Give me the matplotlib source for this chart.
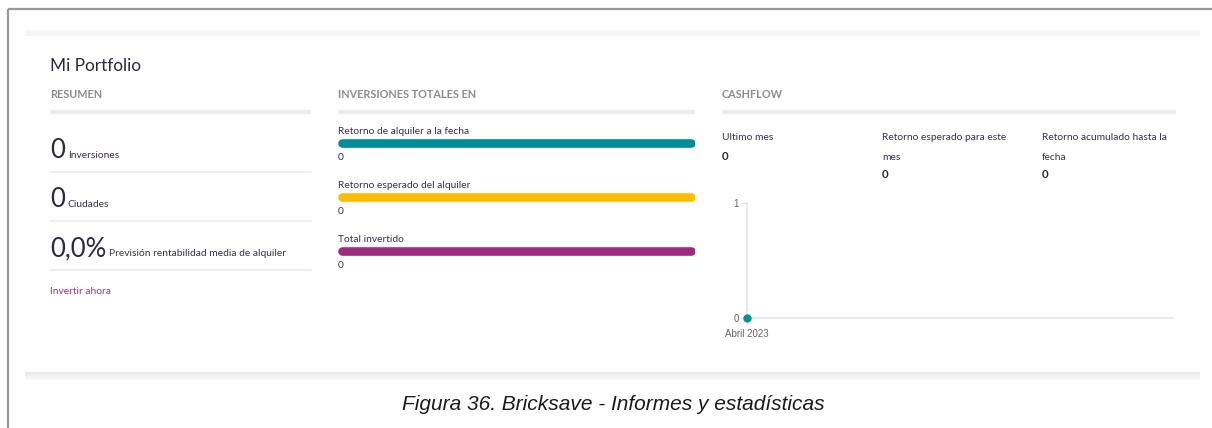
# plot.py
# Bricksave portfolio dashboard (Mi Portfolio) redrawn with matplotlib

import matplotlib.pyplot as plt

# summary block
summary_values = ['0', '0', '0,0%']
summary_labels = ['Inversiones', 'Ciudades', 'Previsión rentabilidad media de alquiler']

# total investments block
bar_labels = ['Retorno de alquiler a la fecha', 'Retorno esperado del alquiler', 'Total invertido']
bar_values = [0, 0, 0]
bar_colors = ['#008c98', '#ffbd00', '#a02a7d']

# cashflow block
cash_labels = ['Ultimo mes', 'Retorno esperado para este', 'Retorno acumulado hasta la']
cash_labels2 = ['', 'mes', 'fecha']
cash_values = [0, 0, 0]
months = ['Abril 2023']
cashflow = [0]

plt.rcParams['font.family'] = ['Lato', 'DejaVu Sans']

W, H = 1212, 428
fig = plt.figure(figsize=(W / 100, H / 100), dpi=100)
fig.patch.set_facecolor('white')

# full-figure canvas in pixel coords for the page decorations
bg = fig.add_axes([0, 0, 1, 1])
bg.set_xlim(0, W)
bg.set_ylim(H, 0)
bg.axis('off')

dark = '#2c2744'
txt = '#3a2f4e'
head = '#8c8c8c'
rule = '#ececf0'
small = 7.4

# page frame and card edges
bg.plot([8, W], [9, 9], color='#9a9a9a', lw=1.6, solid_capstyle='butt')
bg.plot([8, 8], [9, H], color='#9a9a9a', lw=1.6, solid_capstyle='butt')
bg.fill_between([25, 1200], 30, 36, color='#f6f6f8', lw=0)
for i, c in enumerate(['#e9e9ec', '#efeff1', '#f3f3f5', '#f7f7f8']):
    bg.fill_between([25, 1200], 372 + 2 * i, 374 + 2 * i, color=c, lw=0)

bg.text(50, 66, 'Mi Portfolio', fontsize=12.4, color=dark, va='center', ha='left')

# section headers and underlines
for x0, x1, name in [(50, 311, 'RESUMEN'), (338, 695, 'INVERSIONES TOTALES EN'),
                     (722, 1176, 'CASHFLOW')]:
    bg.text(x0, 94, name, fontsize=7.8, color=head, fontweight='bold', va='center')
    bg.plot([x0, x1], [112, 112], color=rule, lw=3, solid_capstyle='butt')

# summary
base_y = [158, 207, 256]
for i, (v, lab) in enumerate(zip(summary_values, summary_labels)):
    t = bg.text(50, base_y[i], v, fontsize=18.5, color=dark, va='baseline', ha='left')
    fig.canvas.draw()
    bb = t.get_window_extent()
    x_end = bb.x1 * W / fig.bbox.width
    bg.text(x_end + 3, base_y[i], lab, fontsize=small, color=txt, va='baseline', ha='left')
    bg.plot([50, 311], [base_y[i] + 14, base_y[i] + 14], color='#eeeef0', lw=1.2)
bg.text(50, 292, 'Invertir ahora', fontsize=small, color='#a0307e', va='center')

# total investment bars (full track, value printed below), axes in pixel units
bar_ax = fig.add_axes([338 / W, 1 - 275 / H, (695 - 338) / W, (275 - 120) / H])
bar_ax.set_xlim(0, 357)
bar_ax.set_ylim(275, 120)
bar_ax.axis('off')
bar_y = [143, 197, 251]
for y, lab, val, col in zip(bar_y, bar_labels, bar_values, bar_colors):
    bar_ax.plot([4, 353], [y, y], color=col, lw=6.2, solid_capstyle='round')
    bar_ax.text(0, y - 12, lab, fontsize=small, color=txt, va='center')
    bar_ax.text(0, y + 14, str(val), fontsize=small, color=txt, va='center')

# cashflow figures
for i, (lab, lab2, val) in enumerate(zip(cash_labels, cash_labels2, cash_values)):
    x = 722 + i * 160
    bg.text(x, 138, lab, fontsize=small, color=txt, va='center')
    if lab2:
        bg.text(x, 157, lab2, fontsize=small, color=txt, va='center')
    yv = 156 if i == 0 else 174
    bg.text(x, yv, str(val), fontsize=8.3, color=dark, fontweight='bold', va='center')

# cashflow chart
ax = fig.add_axes([747 / W, 1 - 318 / H, (1173 - 747) / W, (318 - 203) / H])
x = list(range(len(months)))
ax.plot(x, cashflow, color='#00929c', marker='o', markersize=5, clip_on=False, zorder=5)
ax.set_xlim(0, 1)
ax.set_ylim(0, 1)
ax.set_yticks([0, 1])
ax.set_xticks(x)
ax.set_xticklabels(months)
for s in ['top', 'right']:
    ax.spines[s].set_visible(False)
for s in ['left', 'bottom']:
    ax.spines[s].set_color('#e6e6e6')
    ax.spines[s].set_linewidth(1.2)
ax.tick_params(colors='#e0e0e0', labelcolor='#666666', length=5, width=0.8,
               labelsize=7, pad=1)
ax.tick_params(axis='x', pad=3)
for lab in ax.get_xticklabels() + ax.get_yticklabels():
    lab.set_family(['Liberation Sans', 'DejaVu Sans'])
ax.patch.set_alpha(0)

# caption
bg.text(613, 405, 'Figura 36. Bricksave - Informes y estadísticas', fontsize=15,
        fontstyle='italic', color='#1a1a1a', ha='center', va='center',
        family=['Liberation Sans', 'DejaVu Sans'])

fig.savefig('out.png', dpi=100)
